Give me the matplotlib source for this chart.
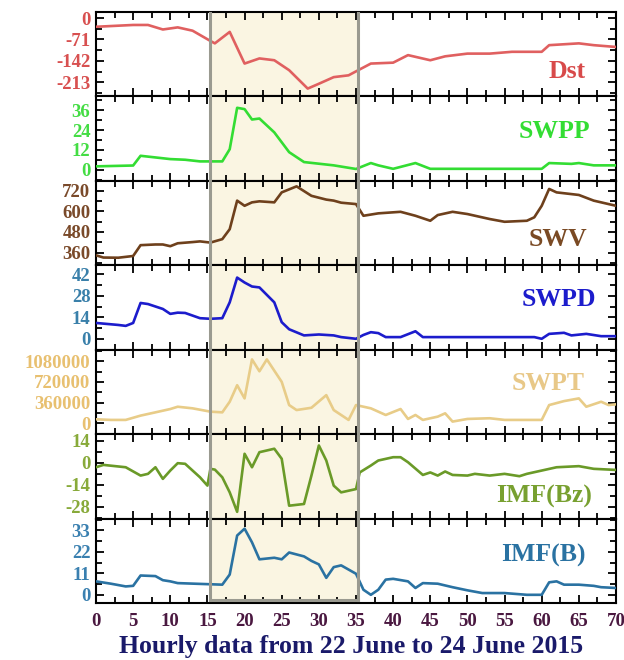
import matplotlib
matplotlib.use("Agg")
import matplotlib.pyplot as plt
from matplotlib.ticker import MultipleLocator, FixedLocator, AutoMinorLocator, FixedFormatter
from matplotlib.lines import Line2D
from matplotlib.transforms import blended_transform_factory

plt.rcParams["axes.unicode_minus"] = False

# ---------------- data ----------------
dst_h = [0, 5, 7, 9, 11, 13, 15.4, 16, 18, 20, 22, 24, 26, 28.5, 30, 32, 34, 35.3, 37, 40, 42, 45, 47, 50, 53, 56, 60, 61, 65, 67, 70]
dst_v = [-29, -23, -23, -38, -31, -42, -76, -84, -46, -151, -134, -140, -173, -234, -218, -196, -190, -173, -151, -148, -123, -140, -127, -118, -118, -112, -112, -90, -84, -90, -96]

swpp_h = [0, 5, 6, 8, 10, 12, 14, 17, 18, 19, 20, 21, 22, 24, 26, 28, 30, 32, 35, 37, 38, 40, 43, 45, 50, 55, 60, 61, 64, 65, 67, 70]
swpp_v = [2, 2.5, 8.4, 7.4, 6.4, 6, 5, 5, 12.4, 37.5, 36.7, 30.4, 31, 22.6, 10.6, 4.6, 3.6, 2.6, 0.4, 4, 2.6, 0.5, 4, 0.5, 0.5, 0.5, 0.5, 4, 3.5, 4, 2.6, 2.6]

swv_h = [0, 1, 3, 5, 6, 8, 9, 10, 11, 13, 14, 15.4, 17, 18, 19, 20, 21, 22, 24, 25, 27, 29, 31, 32, 33, 35, 36, 38, 41, 43, 45, 46, 48, 50, 53, 55, 58, 59, 60, 61, 62, 65, 67, 70]
swv_v = [344, 331, 330, 340, 403, 407, 407, 397, 414, 421, 425, 418, 438, 496, 662, 632, 652, 658, 652, 710, 745, 690, 668, 662, 650, 642, 574, 588, 597, 574, 545, 578, 597, 584, 555, 539, 545, 565, 632, 730, 710, 695, 662, 632]

swpd_h = [0, 3, 4, 5, 6, 7, 9, 10, 11, 12, 14, 15.4, 17, 18, 19, 20, 21, 22, 24, 25, 26, 28, 30, 32, 33, 35, 36, 37, 38, 39, 41, 43, 44, 50, 59, 60, 61, 63, 64, 66, 68, 70]
swpd_v = [10.3, 9, 8.4, 10.3, 23.3, 22.6, 19.4, 16.2, 17, 16.8, 13.4, 13, 13.4, 23.7, 39.8, 36.6, 34, 33.4, 23.7, 10.8, 6.2, 2.2, 2.8, 2.2, 1.1, 0, 2.5, 4.3, 3.7, 1.1, 1.1, 4.9, 1.1, 1.1, 1.1, 0, 3.2, 3.9, 2.2, 3.2, 1.7, 1.7]

swpt_h = [0, 2, 4, 6, 8, 10, 11, 13, 15.4, 17, 18, 19, 20, 21, 22, 23, 25, 26, 27, 29, 31, 32, 34, 35, 37, 39, 41, 42, 43, 44, 46, 47, 48, 50, 53, 55, 58, 60, 61, 63, 65, 66, 68, 69, 70]
swpt_v = [69000, 58000, 58000, 133000, 190000, 248000, 288000, 260000, 202000, 190000, 375000, 663000, 433000, 1113000, 906000, 1113000, 721000, 317000, 230000, 270000, 490000, 230000, 58000, 317000, 260000, 144000, 248000, 75000, 144000, 58000, 115000, 173000, 29000, 75000, 87000, 58000, 58000, 58000, 317000, 386000, 433000, 288000, 375000, 317000, 330000]

bz_h = [0, 1, 4, 6, 7, 8, 9, 10, 11, 12, 14, 15, 15.4, 16, 17, 18, 19, 20, 21, 22, 24, 25, 26, 28, 29, 30, 31, 32, 33, 35, 35.5, 37, 38, 40, 41, 42, 44, 45, 46, 47, 48, 50, 51, 53, 55, 57, 58, 60, 62, 65, 67, 70]
bz_v = [-2.8, -1.3, -2.8, -8.1, -7, -2.8, -10.2, -4.9, -0.2, -0.6, -9.2, -14.5, -3.8, -4.3, -9.2, -18.8, -31.2, 5.8, -2.8, 6.8, 9, 2.6, -27.3, -26.2, -8.1, 11.1, 1.5, -14.5, -18.8, -16.7, -6.1, -1.7, 1.5, 3.6, 3.6, 0.4, -7.7, -6.1, -8.1, -5.5, -7.7, -8.1, -7, -8.1, -7, -8.5, -7, -4.9, -2.8, -2.1, -3.8, -4.5]

imfb_h = [0, 2, 4, 5, 6, 8, 9, 10, 11, 17, 18, 19, 20, 21, 22, 24, 25, 26, 28, 29, 30, 31, 32, 33, 35, 36, 37, 38, 39, 40, 42, 43, 44, 46, 48, 50, 52, 55, 58, 60, 61, 62, 63, 65, 67, 68, 70]
imfb_v = [6.9, 5.7, 4.3, 4.6, 9.9, 9.6, 7.5, 6.9, 6, 5.2, 10.4, 30.4, 33.9, 26.9, 18.2, 19, 18.2, 21.7, 19.7, 17.4, 15.6, 8.7, 14.2, 15.1, 10.8, 2.6, 0, 2.6, 7.8, 8.2, 6.9, 3.5, 6, 5.7, 3.9, 2.3, 0.9, 0.9, 0, 0, 6.4, 6.9, 5.2, 5.2, 4.6, 3.9, 3.5]

panel_names = ["Dst", "SWPP", "SWV", "SWPD", "SWPT", "IMF(Bz)", "IMF(B)"]
panel_ticks = [
    [0, -71, -142, -213],
    [0, 12, 24, 36],
    [360, 480, 600, 720],
    [0, 14, 28, 42],
    [0, 360000, 720000, 1080000],
    [-28, -14, 0, 14],
    [0, 11, 22, 33],
]
x_ticks = list(range(0, 71, 5))
xlabel_text = "Hourly data from 22 June to 24 June 2015"
shade_start, shade_end = 15.3, 35.3

# ---------------- style ----------------
series = [(dst_h, dst_v), (swpp_h, swpp_v), (swv_h, swv_v), (swpd_h, swpd_v),
          (swpt_h, swpt_v), (bz_h, bz_v), (imfb_h, imfb_v)]
line_colors = ["#e06060", "#33dd33", "#6e401c", "#1c1ccc", "#e8cc88", "#6a9a28", "#2a72a2"]
tick_colors = ["#d85050", "#44dd44", "#7a4a2a", "#3a80aa", "#e8c070", "#88aa3a", "#3a80b0"]
name_colors = ["#d84a4a", "#33dd33", "#7a4a24", "#1c1ccc", "#e8c888", "#78a030", "#2a72a2"]
ylims = [(-260, 20), (-6.8, 44.4), (286, 777), (-7.1, 47.8), (-190000, 1282000), (-35.5, 18.3), (-4.2, 39.1)]
name_pos = [(567, 72), (554, 131), (558, 240), (559, 300), (548, 383), (544, 496), (543, 555)]

serif = ["Liberation Serif", "DejaVu Serif"]
W, H = 624, 660
fig = plt.figure(figsize=(W / 100, H / 100), dpi=100)
fig.patch.set_facecolor("white")
gs = fig.add_gridspec(7, 1, left=96 / W, right=616 / W, bottom=1 - 603 / H, top=1 - 12 / H, hspace=0)
axes = [fig.add_subplot(gs[i, 0]) for i in range(7)]

for i, ax in enumerate(axes):
    h, v = series[i]
    ax.axvspan(shade_start, shade_end, color="#faf5e2", zorder=0, lw=0)
    ax.plot(h, v, color=line_colors[i], lw=1.9, zorder=3, solid_joinstyle="round")
    ax.set_xlim(0, 70)
    ax.set_ylim(*ylims[i])
    ax.yaxis.set_major_locator(FixedLocator(panel_ticks[i]))
    ax.yaxis.set_major_formatter(FixedFormatter([str(t) for t in panel_ticks[i]]))
    ax.yaxis.set_minor_locator(AutoMinorLocator(2))
    ax.xaxis.set_major_locator(MultipleLocator(5))
    ax.xaxis.set_minor_locator(MultipleLocator(2.5))
    ax.tick_params(axis="both", which="both", direction="in", top=True, right=True,
                   width=1.3, color="black")
    ax.tick_params(axis="both", which="major", length=6)
    ax.tick_params(axis="both", which="minor", length=4)
    ax.tick_params(axis="y", which="major", labelsize=13.5, labelcolor=tick_colors[i], pad=4)
    for lab in ax.get_yticklabels():
        lab.set_fontfamily(serif)
        lab.set_fontweight("bold")
    for sp in ax.spines.values():
        sp.set_linewidth(1.5)
    if i < 6:
        ax.tick_params(axis="x", labelbottom=False)
    else:
        ax.set_xticks(x_ticks)
        ax.set_xticklabels([str(t) for t in x_ticks], fontfamily=serif, fontweight="bold",
                           fontsize=13.5, color="#4a1840")
        ax.tick_params(axis="x", pad=7)
    fig.text(name_pos[i][0] / W, 1 - name_pos[i][1] / H, panel_names[i], ha="center", va="center",
             fontsize=18.5, fontweight="bold", family=serif, color=name_colors[i])

fig.text(0.5 * (112 + 590) / W, 1 - 646 / H, xlabel_text, ha="center", va="center",
         fontsize=18.5, fontweight="bold", family=serif, color="#1a1a6a")

# outline of the highlighted interval across all panels
trans = blended_transform_factory(axes[-1].transData, fig.transFigure)
y_lo, y_hi = 1 - 600 / H, 1 - 13 / H
for xs, ys in [([shade_start, shade_start], [y_lo, y_hi]),
               ([shade_end, shade_end], [y_lo, y_hi]),
               ([shade_start, shade_end], [y_lo, y_lo])]:
    fig.lines.append(Line2D(xs, ys, transform=trans, color="#9a9a90", lw=2.2, zorder=5))

fig.savefig("out.png", dpi=100, facecolor="white")
